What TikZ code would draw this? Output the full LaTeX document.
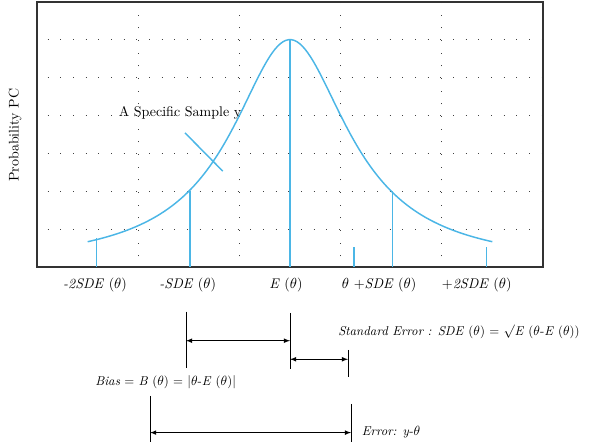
\documentclass[tikz,border=0pt]{standalone}
\usepackage{amsmath}
\usetikzlibrary{arrows}
\definecolor{curveblue}{RGB}{75,182,230}

\begin{document}
\begin{tikzpicture}[x=75.9pt, y=28.425pt,
		>=latex,   %arrow tips
		font=\fontsize{10.5}{12.6}\selectfont,
		gridline/.style={black!75, dash pattern=on 0.8pt off 8.7pt, dash phase=-8pt, line width=0.8pt},
		blueline/.style={curveblue, line width=1.1pt},
		dimline/.style={line width=0.6pt},
		ticklabel/.style={inner sep=1pt},
		dimlabel/.style={anchor=west, inner sep=0pt, font=\fontsize{9.6}{11.5}\selectfont}]
	%Bildbereich
	\useasboundingbox (-0.366,-4.697) rectangle (5.494,7.045);
	%Raster zeichnen
	\foreach \x in {1,...,4} \draw[gridline] (\x,0) -- (\x,7);
	\foreach \y in {1,...,6} \draw[gridline] (0,\y) -- (5,\y);
	% Rahmen
	\draw[line width=1.2pt, black!80] (0,0) rectangle (5,7);
	%Kurve zeichnen
	\draw[blueline, domain=0.5:4.5, samples=150] plot (\x, {6/(1+2*(\x-2.5)^2)});
	% senkrechte Linien
	\foreach \x/\h in {0.59/0.76, 1.51/2.0, 2.5/6.0, 3.13/0.54, 3.51/2.0, 4.44/0.54}
		\draw[blueline] (\x,0) -- (\x,\h);
	% Markierung der Stichprobe
	\draw[blueline] (1.462,3.54) -- (1.835,2.53);
	\node (sample) at (1.413,4.06) {A Specific Sample y};
	\node[rotate=90] (ylabel) at (-0.217,3.48) {Probability PC};
	% Achsen beschriften
	\node[ticklabel] (m2sde) at (0.573,-0.475) {\textit{-2SDE} ($\theta$)};
	\node[ticklabel] (m1sde) at (1.489,-0.475) {\textit{-SDE} ($\theta$)};
	\node[ticklabel] (expv) at (2.46,-0.475) {\textit{E} ($\theta$)};
	\node[ticklabel] (p1sde) at (3.38,-0.475) {$\theta$ +\textit{SDE} ($\theta$)};
	\node[ticklabel] (p2sde) at (4.345,-0.475) {+\textit{2SDE} ($\theta$)};
	% Masslinien
	\coordinate (a1) at (1.472,-1.18);  \coordinate (a2) at (1.472,-2.67);
	\coordinate (b1) at (2.5,-1.21);    \coordinate (b2) at (2.5,-2.70);
	\coordinate (c1) at (3.073,-2.19);  \coordinate (c2) at (3.073,-2.90);
	\coordinate (d1) at (1.117,-3.40);  \coordinate (d2) at (1.117,-4.61);
	\coordinate (e1) at (3.103,-3.615); \coordinate (e2) at (3.103,-4.61);
	\foreach \p in {a,b,c,d,e} \draw[dimline] (\p1) -- (\p2);
	\coordinate (bias l) at (1.472,-1.945); \coordinate (bias r) at (2.5,-1.945);
	\coordinate (sde l) at (2.5,-2.435);    \coordinate (sde r) at (3.073,-2.435);
	\coordinate (err l) at (1.117,-4.37);   \coordinate (err r) at (3.103,-4.37);
	\draw[dimline,<->] (bias l) -- (bias r);
	\draw[dimline,<->] (sde l) -- (sde r);
	\draw[dimline,<->] (err l) -- (err r);
	%Beschriftung
	\node[dimlabel] (stderr) at (2.974,-1.707)
		{\textit{Standard Error : SDE} ($\theta$) = $\surd$\textit{E} ($\theta$-\textit{E} ($\theta$))};
	\node[dimlabel] (bias) at (0.573,-3.03)
		{\textit{Bias} = \textit{B} ($\theta$) = $|\theta$-\textit{E} ($\theta$)$|$};
	\node[dimlabel] (error) at (3.208,-4.36)
		{\textit{Error: y}-$\theta$};
\end{tikzpicture}
\end{document}
